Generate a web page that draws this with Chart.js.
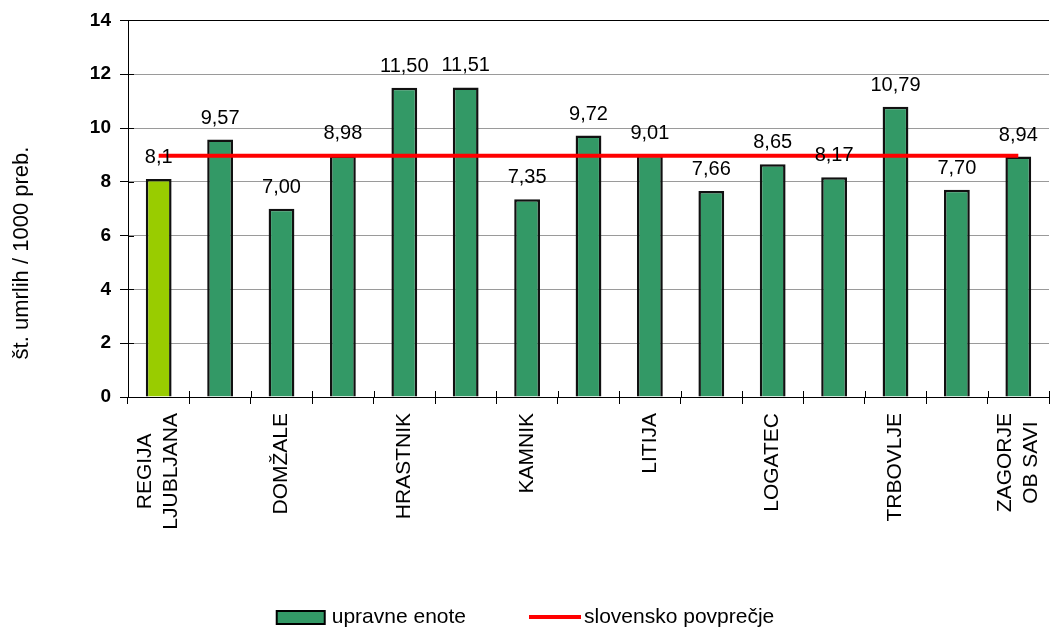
<!DOCTYPE html>
<html>
<head>
<meta charset="utf-8">
<script src="https://cdn.jsdelivr.net/npm/chart.js@4/dist/chart.umd.min.js"></script>
<style>
  html, body { margin: 0; padding: 0; background: #fff; }
</style>
</head>
<body>
<canvas id="mortalityChart" width="1051" height="629"></canvas>
<script>
/* ================= DATA ================= */
const categories = [
  ['REGIJA', 'LJUBLJANA'], 'CERKNICA', 'DOMŽALE', 'GROSUPLJE', 'HRASTNIK',
  'IDRIJA', 'KAMNIK', 'KOČEVJE', 'LITIJA', 'LJUBLJANA', 'LOGATEC',
  'RIBNICA', 'TRBOVLJE', 'VRHNIKA', ['ZAGORJE', 'OB SAVI']
];
const unitValues = [8.1, 9.57, 7.00, 8.98, 11.50, 11.51, 7.35, 9.72, 9.01, 7.66, 8.65, 8.17, 10.79, 7.70, 8.94];
const valueLabels = ['8,1', '9,57', '7,00', '8,98', '11,50', '11,51', '7,35', '9,72', '9,01', '7,66', '8,65', '8,17', '10,79', '7,70', '8,94'];
const slovenianAverage = [8.97, 8.97, 8.97, 8.97, 8.97, 8.97, 8.97, 8.97, 8.97, 8.97, 8.97, 8.97, 8.97, 8.97, 8.97];
const yTicks = [0, 2, 4, 6, 8, 10, 12, 14];
const seriesNames = ['upravne enote', 'slovensko povprečje'];
const yTitle = 'št. umrlih / 1000 preb.';

const FONT = '"Liberation Sans", Arial, sans-serif';
const GREEN = '#339966';
const LIME = '#99cc00';
const RED = '#ff0000';

/* ================= EXTRA DRAWING (labels, title, legend) ================= */
const excelLook = {
  id: 'excelLook',
  afterDatasetsDraw(chart) {
    const ctx = chart.ctx;
    const bars = chart.getDatasetMeta(0).data;
    ctx.save();
    ctx.font = '20px ' + FONT;
    ctx.fillStyle = '#000';
    ctx.textAlign = 'center';
    ctx.textBaseline = 'alphabetic';
    bars.forEach((bar, i) => ctx.fillText(valueLabels[i], bar.x, bar.y - 16));
    ctx.restore();
  },
  afterDraw(chart) {
    const ctx = chart.ctx;
    const xs = chart.scales.x;
    const ys = chart.scales.y;
    const area = chart.chartArea;
    ctx.save();

    // tick marks crossing into the plot
    ctx.strokeStyle = '#000';
    ctx.lineWidth = 1;
    ctx.beginPath();
    yTicks.forEach(v => {
      const y = Math.round(ys.getPixelForValue(v)) + 0.5;
      ctx.moveTo(area.left, y);
      ctx.lineTo(area.left + 6, y);
    });
    for (let i = 0; i <= categories.length; i++) {
      const x = Math.round(xs.getPixelForValue(i - 0.5)) + 0.5;
      ctx.moveTo(x, area.bottom - 6);
      ctx.lineTo(x, area.bottom);
    }
    ctx.stroke();

    // category labels (every other one, rotated, lines centred)
    ctx.font = '21px ' + FONT;
    ctx.fillStyle = '#000';
    ctx.textAlign = 'center';
    ctx.textBaseline = 'middle';
    categories.forEach((cat, i) => {
      if (i % 2) return;
      const lines = Array.isArray(cat) ? cat : [cat];
      const w = Math.max(...lines.map(l => ctx.measureText(l).width));
      ctx.save();
      ctx.translate(xs.getPixelForTick(i), area.bottom + 16 + w / 2);
      ctx.rotate(-Math.PI / 2);
      lines.forEach((l, j) => ctx.fillText(l, 0, (j - (lines.length - 1) / 2) * 26));
      ctx.restore();
    });

    // y axis title
    ctx.font = '22px ' + FONT;
    ctx.save();
    ctx.translate(22, 253);
    ctx.rotate(-Math.PI / 2);
    ctx.fillText(yTitle, 0, 0);
    ctx.restore();

    // legend
    ctx.font = '21px ' + FONT;
    ctx.textAlign = 'left';
    const w1 = ctx.measureText(seriesNames[0]).width;
    const w2 = ctx.measureText(seriesNames[1]).width;
    const total = 48 + 7 + w1 + 63 + 52 + 3 + w2;
    let x = chart.width / 2 - total / 2;
    const ly = 617;
    ctx.fillStyle = GREEN;
    ctx.fillRect(x, ly - 6, 48, 13);
    ctx.lineWidth = 2;
    ctx.strokeStyle = '#000';
    ctx.strokeRect(x, ly - 6, 48, 13);
    x += 48 + 7;
    ctx.fillStyle = '#000';
    ctx.fillText(seriesNames[0], x, ly);
    x += w1 + 63;
    ctx.strokeStyle = RED;
    ctx.lineWidth = 4;
    ctx.beginPath();
    ctx.moveTo(x, ly);
    ctx.lineTo(x + 52, ly);
    ctx.stroke();
    x += 52 + 3;
    ctx.fillText(seriesNames[1], x, ly);

    ctx.restore();
  }
};

/* ================= CHART ================= */
const mortalityChart = new Chart(
  document.getElementById('mortalityChart'),
  {
    type: 'bar',
    data: {
      labels: categories,
      datasets: [
        {
          label: seriesNames[0],
          data: unitValues,
          backgroundColor: unitValues.map((v, i) => i === 0 ? LIME : GREEN),
          borderColor: '#111',
          borderWidth: 2.5,
          categoryPercentage: 1,
          barPercentage: 0.42,
          order: 1
        },
        {
          type: 'line',
          label: seriesNames[1],
          data: slovenianAverage,
          borderColor: RED,
          borderWidth: 4,
          pointRadius: 0,
          fill: false,
          order: 0
        }
      ]
    },
    options: {
      responsive: false,
      animation: false,
      layout: { padding: { top: 19, right: 2, left: 0, bottom: 0 } },
      plugins: {
        legend: { display: false },
        tooltip: { enabled: false }
      },
      scales: {
        x: {
          grid: {
            offset: true,
            drawOnChartArea: false,
            tickLength: 7,
            tickColor: '#000'
          },
          border: { color: '#000', width: 1 },
          ticks: { display: false },
          afterFit: s => { s.height = 232; }
        },
        y: {
          min: 0,
          max: 14,
          afterBuildTicks: s => { s.ticks = yTicks.map(v => ({ value: v })); },
          grid: {
            color: c => (c.tick && c.tick.value === 14) ? '#000' : '#9a9a9a',
            tickLength: 8,
            tickColor: '#000'
          },
          border: { color: '#000', width: 1 },
          ticks: {
            padding: 9,
            color: '#000',
            font: { family: FONT, size: 19, weight: 'bold' }
          },
          afterFit: s => { s.width = 128; }
        }
      }
    },
    plugins: [excelLook]
  }
);
</script>
</body>
</html>
